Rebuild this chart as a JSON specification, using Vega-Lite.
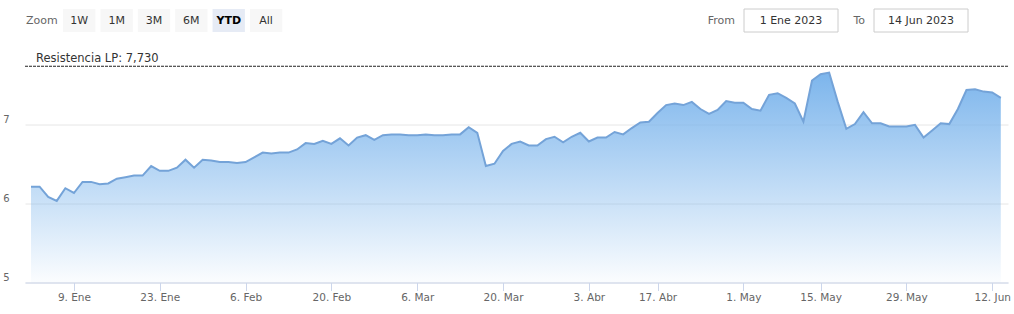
{
  "$schema": "https://vega.github.io/schema/vega-lite/v6.json",
  "background": "white",
  "padding": {"left": 2, "top": 8, "right": 0, "bottom": 0},
  "autosize": {"type": "pad"},
  "bounds": "flush",
  "spacing": 33.5,
  "config": {"view": {"stroke": null}, "font": "DejaVu Sans"},
  "datasets": {
    "buttons": [
      {"button": "Zoom"}, {"button": "1W"}, {"button": "1M"}, {"button": "3M"},
      {"button": "6M"}, {"button": "YTD"}, {"button": "All"}
    ],
    "range": [
      {"label": "From", "date": "1 Ene 2023"},
      {"label": "To", "date": "14 Jun 2023"}
    ],
    "levels": [
      {"name": "Resistencia LP", "level": 7.73, "text": "Resistencia LP: 7,730"}
    ],
    "prices": [
      {"date": "2023-01-02", "close": 6.21},
      {"date": "2023-01-03", "close": 6.21},
      {"date": "2023-01-04", "close": 6.08},
      {"date": "2023-01-05", "close": 6.03},
      {"date": "2023-01-06", "close": 6.19},
      {"date": "2023-01-09", "close": 6.13},
      {"date": "2023-01-10", "close": 6.27},
      {"date": "2023-01-11", "close": 6.27},
      {"date": "2023-01-12", "close": 6.24},
      {"date": "2023-01-13", "close": 6.25},
      {"date": "2023-01-16", "close": 6.31},
      {"date": "2023-01-17", "close": 6.33},
      {"date": "2023-01-18", "close": 6.35},
      {"date": "2023-01-19", "close": 6.35},
      {"date": "2023-01-20", "close": 6.47},
      {"date": "2023-01-23", "close": 6.41},
      {"date": "2023-01-24", "close": 6.41},
      {"date": "2023-01-25", "close": 6.45},
      {"date": "2023-01-26", "close": 6.55},
      {"date": "2023-01-27", "close": 6.45},
      {"date": "2023-01-30", "close": 6.55},
      {"date": "2023-01-31", "close": 6.54},
      {"date": "2023-02-01", "close": 6.52},
      {"date": "2023-02-02", "close": 6.52},
      {"date": "2023-02-03", "close": 6.51},
      {"date": "2023-02-06", "close": 6.52},
      {"date": "2023-02-07", "close": 6.58},
      {"date": "2023-02-08", "close": 6.64},
      {"date": "2023-02-09", "close": 6.63},
      {"date": "2023-02-10", "close": 6.64},
      {"date": "2023-02-13", "close": 6.64},
      {"date": "2023-02-14", "close": 6.68},
      {"date": "2023-02-15", "close": 6.76},
      {"date": "2023-02-16", "close": 6.75},
      {"date": "2023-02-17", "close": 6.79},
      {"date": "2023-02-20", "close": 6.75},
      {"date": "2023-02-21", "close": 6.82},
      {"date": "2023-02-22", "close": 6.73},
      {"date": "2023-02-23", "close": 6.83},
      {"date": "2023-02-24", "close": 6.86},
      {"date": "2023-02-27", "close": 6.80},
      {"date": "2023-02-28", "close": 6.86},
      {"date": "2023-03-01", "close": 6.87},
      {"date": "2023-03-02", "close": 6.87},
      {"date": "2023-03-03", "close": 6.86},
      {"date": "2023-03-06", "close": 6.86},
      {"date": "2023-03-07", "close": 6.87},
      {"date": "2023-03-08", "close": 6.86},
      {"date": "2023-03-09", "close": 6.86},
      {"date": "2023-03-10", "close": 6.87},
      {"date": "2023-03-13", "close": 6.87},
      {"date": "2023-03-14", "close": 6.96},
      {"date": "2023-03-15", "close": 6.89},
      {"date": "2023-03-16", "close": 6.47},
      {"date": "2023-03-17", "close": 6.50},
      {"date": "2023-03-20", "close": 6.66},
      {"date": "2023-03-21", "close": 6.75},
      {"date": "2023-03-22", "close": 6.78},
      {"date": "2023-03-23", "close": 6.73},
      {"date": "2023-03-24", "close": 6.73},
      {"date": "2023-03-27", "close": 6.81},
      {"date": "2023-03-28", "close": 6.84},
      {"date": "2023-03-29", "close": 6.77},
      {"date": "2023-03-30", "close": 6.84},
      {"date": "2023-03-31", "close": 6.89},
      {"date": "2023-04-03", "close": 6.78},
      {"date": "2023-04-04", "close": 6.83},
      {"date": "2023-04-05", "close": 6.83},
      {"date": "2023-04-06", "close": 6.90},
      {"date": "2023-04-11", "close": 6.87},
      {"date": "2023-04-12", "close": 6.95},
      {"date": "2023-04-13", "close": 7.02},
      {"date": "2023-04-14", "close": 7.03},
      {"date": "2023-04-17", "close": 7.14},
      {"date": "2023-04-18", "close": 7.24},
      {"date": "2023-04-19", "close": 7.26},
      {"date": "2023-04-20", "close": 7.24},
      {"date": "2023-04-21", "close": 7.28},
      {"date": "2023-04-24", "close": 7.19},
      {"date": "2023-04-25", "close": 7.13},
      {"date": "2023-04-26", "close": 7.18},
      {"date": "2023-04-27", "close": 7.29},
      {"date": "2023-04-28", "close": 7.27},
      {"date": "2023-05-02", "close": 7.27},
      {"date": "2023-05-03", "close": 7.19},
      {"date": "2023-05-04", "close": 7.17},
      {"date": "2023-05-05", "close": 7.37},
      {"date": "2023-05-08", "close": 7.39},
      {"date": "2023-05-09", "close": 7.33},
      {"date": "2023-05-10", "close": 7.26},
      {"date": "2023-05-11", "close": 7.03},
      {"date": "2023-05-12", "close": 7.55},
      {"date": "2023-05-15", "close": 7.63},
      {"date": "2023-05-16", "close": 7.65},
      {"date": "2023-05-17", "close": 7.28},
      {"date": "2023-05-18", "close": 6.94},
      {"date": "2023-05-19", "close": 7.00},
      {"date": "2023-05-22", "close": 7.15},
      {"date": "2023-05-23", "close": 7.01},
      {"date": "2023-05-24", "close": 7.01},
      {"date": "2023-05-25", "close": 6.97},
      {"date": "2023-05-26", "close": 6.97},
      {"date": "2023-05-29", "close": 6.97},
      {"date": "2023-05-30", "close": 6.99},
      {"date": "2023-05-31", "close": 6.83},
      {"date": "2023-06-01", "close": 6.92},
      {"date": "2023-06-02", "close": 7.01},
      {"date": "2023-06-05", "close": 7.00},
      {"date": "2023-06-06", "close": 7.19},
      {"date": "2023-06-07", "close": 7.43},
      {"date": "2023-06-08", "close": 7.44},
      {"date": "2023-06-09", "close": 7.41},
      {"date": "2023-06-12", "close": 7.40},
      {"date": "2023-06-13", "close": 7.33}
    ]
  },
  "vconcat": [
    {
      "hconcat": [
        {
          "width": 258,
          "height": 23,
          "data": {"name": "buttons"},
          "encoding": {
            "x": {
              "field": "button", "type": "nominal",
              "scale": {"type": "band", "domain": ["Zoom", "1W", "1M", "3M", "6M", "YTD", "All"], "paddingInner": 0.135, "paddingOuter": 0.02},
              "axis": null
            }
          },
          "layer": [
            {
              "transform": [{"filter": "datum.button != 'Zoom'"}],
              "mark": {"type": "rect"},
              "encoding": {
                "color": {"condition": {"test": "datum.button == 'YTD'", "value": "#e6ebf5"}, "value": "#f7f7f7"}
              }
            },
            {
              "transform": [{"filter": "datum.button != 'YTD'"}],
              "mark": {"type": "text", "fontSize": 11, "font": "DejaVu Sans"},
              "encoding": {
                "text": {"field": "button"},
                "color": {"condition": {"test": "datum.button == 'Zoom'", "value": "#666666"}, "value": "#333333"}
              }
            },
            {
              "transform": [{"filter": "datum.button == 'YTD'"}],
              "mark": {"type": "text", "fontSize": 11, "font": "DejaVu Sans", "fontWeight": "bold", "color": "#000000"},
              "encoding": {"text": {"field": "button"}}
            }
          ]
        },
        {
          "width": 260,
          "height": 23,
          "data": {"name": "range"},
          "encoding": {
            "x": {
              "field": "date", "type": "nominal", "sort": null,
              "scale": {"type": "point", "padding": 0.5},
              "axis": null
            }
          },
          "layer": [
            {"mark": {"type": "rect", "width": 94, "fill": "white", "stroke": "#cccccc", "strokeWidth": 1}},
            {
              "mark": {"type": "text", "fontSize": 11, "font": "DejaVu Sans", "color": "#333333"},
              "encoding": {"text": {"field": "date"}}
            },
            {
              "mark": {"type": "text", "fontSize": 11, "font": "DejaVu Sans", "color": "#666666", "align": "right", "dx": -56},
              "encoding": {"text": {"field": "label"}}
            }
          ]
        }
      ],
      "spacing": 443,
      "bounds": "flush"
    },
    {
      "width": 983,
      "height": 240,
      "layer": [
        {
          "data": {"name": "prices"},
          "encoding": {
            "x": {
              "field": "date", "type": "ordinal",
              "scale": {"type": "point", "padding": 0.77, "align": 0.455},
              "axis": {
                "values": ["2023-01-09", "2023-01-23", "2023-02-06", "2023-02-20", "2023-03-06", "2023-03-20", "2023-04-03", "2023-04-17", "2023-05-02", "2023-05-15", "2023-05-29", "2023-06-12"],
                "labelExpr": "datum.value == '2023-05-02' ? '1. May' : utcdate(toDate(datum.value)) + '. ' + ['Ene','Feb','Mar','Abr','May','Jun'][utcmonth(toDate(datum.value))]",
                "title": null,
                "labelAngle": 0,
                "labelOverlap": false,
                "domainColor": "#ccd6eb",
                "tickColor": "#ccd6eb",
                "tickSize": 8,
                "labelColor": "#666666",
                "labelFont": "DejaVu Sans",
                "labelFontSize": 10.5,
                "labelPadding": 2,
                "grid": false
              }
            },
            "y": {
              "field": "close", "type": "quantitative",
              "scale": {"domain": [5, 8.03], "nice": false, "zero": false},
              "axis": {
                "values": [5, 6, 7],
                "format": "d",
                "title": null,
                "domain": false,
                "ticks": false,
                "grid": true,
                "gridColor": "#e6e6e6",
                "labelColor": "#666666",
                "labelFont": "DejaVu Sans",
                "labelFontSize": 10,
                "labelPadding": 16,
                "labelBaseline": "alphabetic",
                "labelOffset": -2
              }
            }
          },
          "layer": [
            {
              "mark": {
                "type": "area",
                "color": {
                  "gradient": "linear", "x1": 0, "y1": 0, "x2": 0, "y2": 1,
                  "stops": [
                    {"offset": 0, "color": "#7cb5ec"},
                    {"offset": 1, "color": "rgba(124,181,236,0.03)"}
                  ]
                }
              },
              "encoding": {"y2": {"datum": 5}}
            },
            {"mark": {"type": "line", "color": "#74a3d8", "strokeWidth": 2}}
          ]
        },
        {
          "mark": {"type": "rule", "color": "#e6e6e6", "strokeWidth": 1},
          "encoding": {"y": {"datum": 8.03, "type": "quantitative"}}
        },
        {
          "data": {"name": "levels"},
          "layer": [
            {
              "mark": {"type": "rule", "color": "#222222", "strokeWidth": 1, "strokeDash": [3, 1]},
              "encoding": {"y": {"field": "level", "type": "quantitative"}}
            },
            {
              "mark": {"type": "text", "align": "left", "baseline": "alphabetic", "dx": 5, "dy": -4, "fontSize": 11.5, "font": "DejaVu Sans", "color": "#333333"},
              "encoding": {
                "x": {"datum": "2023-01-02", "type": "ordinal"},
                "y": {"field": "level", "type": "quantitative"},
                "text": {"field": "text"}
              }
            }
          ]
        }
      ]
    }
  ]
}
